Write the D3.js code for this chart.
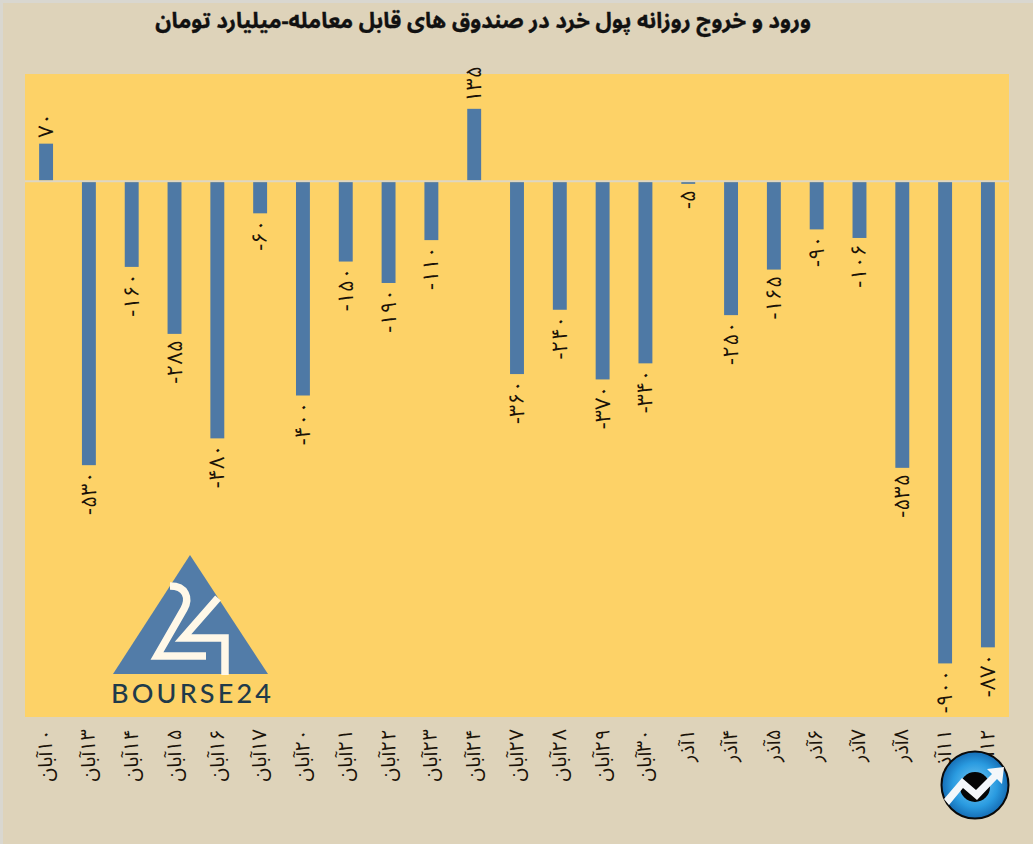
<!DOCTYPE html>
<html><head><meta charset="utf-8">
<script src="https://cdnjs.cloudflare.com/ajax/libs/d3/7.8.5/d3.min.js"></script>
<style>html,body{margin:0;padding:0;background:#DED3BA}svg{display:block}</style>
</head><body><div id="c"></div>
<script>
const titleText = "ورود و خروج روزانه پول خرد در صندوق های قابل معامله-میلیارد تومان";
const categories = ["۱۰آبان","۱۳آبان","۱۴آبان","۱۵آبان","۱۶آبان","۱۷آبان","۲۰آبان","۲۱آبان","۲۲آبان","۲۳آبان","۲۴آبان","۲۷آبان","۲۸آبان","۲۹آبان","۳۰آبان","۱آذر","۴آذر","۵آذر","۶آذر","۷آذر","۸آذر","۱۱آذر","۱۲آذر"];
const values = [70,-530,-160,-285,-480,-60,-400,-150,-190,-110,135,-360,-240,-370,-340,-5,-250,-165,-90,-106,-535,-900,-870];

const W=1033,H=844, plot={l:25,r:1009,t:74,b:717};
const font='"Noto Sans Arabic","Noto Naskh Arabic","Noto Sans",sans-serif';
const fa=n=>(n<0?"-":"")+String(Math.abs(n)).replace(/\d/g,d=>"۰۱۲۳۴۵۶۷۸۹"[d]);
const svg=d3.select("#c").append("svg").attr("width",W).attr("height",H);

svg.append("rect").attr("width",W).attr("height",H).attr("fill","#D9D7D0");
svg.append("rect").attr("x",3).attr("y",3).attr("width",W-3).attr("height",H-3).attr("fill","#DED3BA");
svg.append("rect").attr("x",plot.l).attr("y",plot.t).attr("width",plot.r-plot.l).attr("height",plot.b-plot.t).attr("fill","#FDD267");

const x=d3.scaleBand().domain(d3.range(categories.length)).range([plot.l,plot.r]).paddingInner(0.675).paddingOuter(0.33);
const y=d3.scaleLinear().domain([-1000,200]).range([plot.b,plot.t]);

svg.append("text").text(titleText).attr("x",483).attr("y",28)
  .attr("direction","rtl").attr("text-anchor","middle")
  .attr("font-family",font).attr("font-weight","bold").attr("font-size",22).attr("fill","#111")
  .attr("stroke","#111").attr("stroke-width",0.35);

svg.append("line").attr("x1",plot.l).attr("x2",plot.r).attr("y1",y(0)).attr("y2",y(0))
  .attr("stroke","#DDD6C4").attr("stroke-width",2);

svg.selectAll("rect.bar").data(values).join("rect").attr("class","bar")
  .attr("x",(d,i)=>x(i)).attr("width",x.bandwidth())
  .attr("y",d=>d>0?y(d):y(0)+1).attr("height",d=>d>0?y(0)-1-y(d):y(d)-y(0)-1)
  .attr("fill","#4E79A5");

svg.selectAll("text.val").data(values).join("text").attr("class","val")
  .text(d=>fa(d))
  .attr("transform",(d,i)=>`translate(${x(i)+x.bandwidth()/2},${d>0?y(d)-6:y(d)+6}) rotate(-90)`)
  .attr("text-anchor",d=>d>0?"start":"end").attr("dominant-baseline","central")
  .attr("font-family",font).attr("font-size",21.5).attr("fill","#1a1208");

const xAxis=d3.axisBottom(d3.scaleBand().domain(categories).range([plot.l,plot.r])).tickSize(0).tickPadding(0);
const ax=svg.append("g").attr("transform",`translate(0,${plot.b})`).call(xAxis);
ax.select(".domain").remove();
ax.selectAll("text")
  .attr("transform","translate(0,12) rotate(-90)").attr("y",0).attr("dy",0)
  .attr("direction","rtl").attr("text-anchor","start").attr("dominant-baseline","central")
  .attr("font-family",font).attr("font-size",20).attr("fill","#1a1208");

// Bourse24 logo
const logo=svg.append("g");
logo.append("path").attr("d","M190,555 L268,674 L113,674 Z").attr("fill","#527CA8");
logo.append("path").attr("d","M170,586 C186,586 190,598 184,609 L157,656 L206,656 M218,598 L183,638 L225,638 L225,675")
  .attr("fill","none").attr("stroke","#FFF8E8").attr("stroke-width",7.5);
logo.append("text").text("BOURSE24").attr("x",111).attr("y",703).attr("textLength",160)
  .attr("lengthAdjust","spacing").attr("font-family","Lato,sans-serif").attr("font-weight",500).attr("font-size",27).attr("fill","#1F3A4A");

// Round badge
const defs=svg.append("defs");
const g=defs.append("radialGradient").attr("id","bg").attr("cx","0.5").attr("cy","0.5").attr("r","0.55");
g.append("stop").attr("offset","0").attr("stop-color","#7CCBF2");
g.append("stop").attr("offset","0.6").attr("stop-color","#2A9BE0");
g.append("stop").attr("offset","1").attr("stop-color","#0F5FA8");
const b=svg.append("g");
b.append("circle").attr("cx",975).attr("cy",785).attr("r",33.5).attr("fill","url(#bg)").attr("stroke","#0a0a0a").attr("stroke-width",2);
b.append("circle").attr("cx",975).attr("cy",787).attr("r",15).attr("fill","#050505");
b.append("path").attr("d","M944,799 L962,778 L976,790 L992,774 L987,769 L1004,767 L1002,784 L997,779 L977,800 L963,788 L949,805 Z").attr("fill","#F4F7FA");
</script></body></html>
